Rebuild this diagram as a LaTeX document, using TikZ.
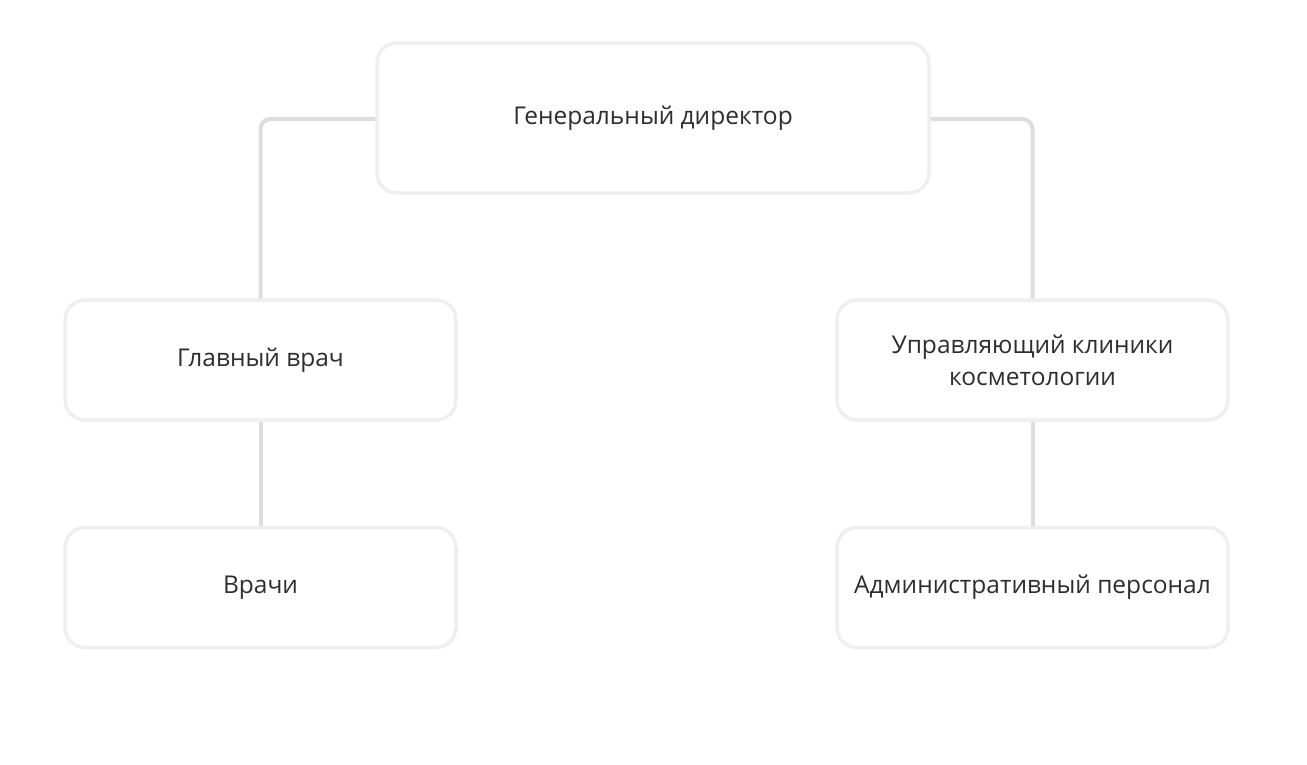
\documentclass[tikz,border=0pt]{standalone}
\usepackage{fontspec}
\setmainfont{Open Sans}
\definecolor{bx}{HTML}{EFEEF1}
\definecolor{ln}{HTML}{DCDDE1}
\definecolor{tx}{HTML}{2E2E2E}
\begin{document}
\begin{tikzpicture}[x=1pt,y=-1pt,
  box/.style={draw=bx,line width=3.5pt,rounded corners=20pt,fill=white,align=center,text=tx,font=\fontsize{24.5}{32}\selectfont,inner sep=0pt},
  conn/.style={draw=ln,line width=4pt,rounded corners=10pt}]
\useasboundingbox (0,0) rectangle (1307,764);
\node[box,minimum width=552pt,minimum height=150pt] (g) at (653,118) {Генеральный директор};
\node[box,minimum width=391pt,minimum height=120pt] (a) at (260.5,360) {Главный врач};
\node[box,minimum width=391pt,minimum height=120pt] (b) at (260.5,587.5) {Врачи};
\node[box,minimum width=391pt,minimum height=120pt] (c) at (1032.5,360) {Управляющий клиники\\косметологии};
\node[box,minimum width=391pt,minimum height=120pt] (d) at (1032.5,587.5) {Административный персонал};
\draw[conn] ([yshift=-1pt]g.west) -| (a.north);
\draw[conn] ([yshift=-1pt]g.east) -| (c.north);
\draw[conn] (a) -- (b);
\draw[conn] (c) -- (d);
\end{tikzpicture}
\end{document}
